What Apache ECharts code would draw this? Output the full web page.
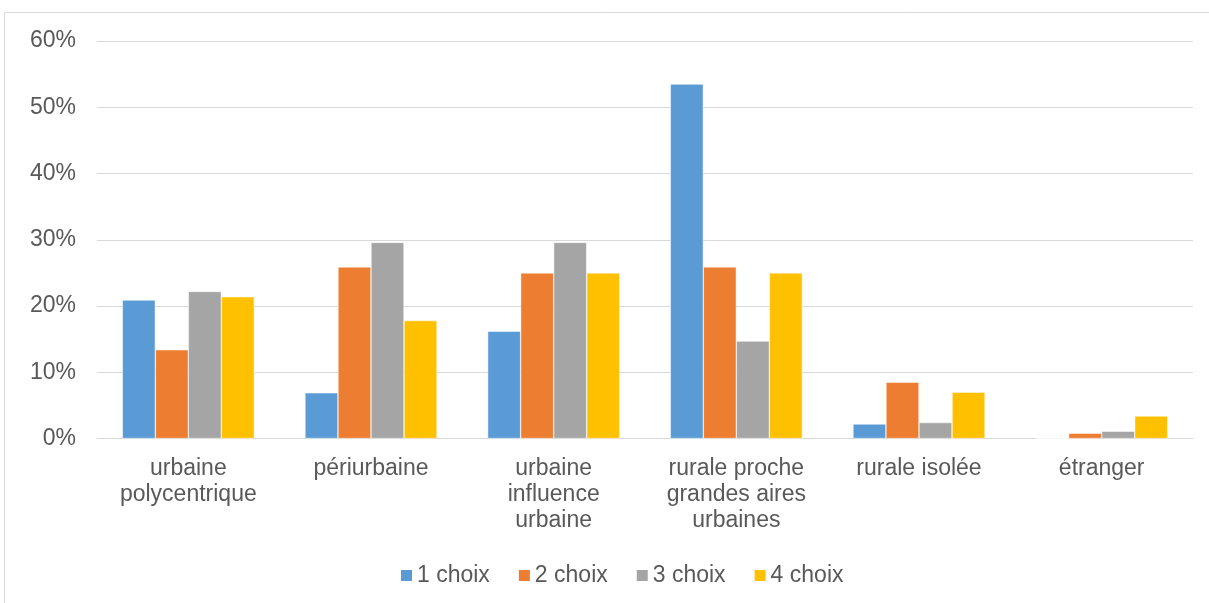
<!DOCTYPE html>
<html><head><meta charset="utf-8">
<script src="https://cdn.jsdelivr.net/npm/echarts@6/dist/echarts.min.js"></script>
<style>html,body{margin:0;padding:0;background:#fff}#c{width:1209px;height:603px}</style>
</head><body><div id="c"></div>
<script>
const categories = ["urbaine\npolycentrique", "périurbaine", "urbaine\ninfluence\nurbaine", "rurale proche\ngrandes aires\nurbaines", "rurale isolée", "étranger"];
const seriesNames = ["1 choix", "2 choix", "3 choix", "4 choix"];
const choix1 = [20.9, 6.9, 16.2, 53.5, 2.2, 0];
const choix2 = [13.4, 25.9, 25.0, 25.9, 8.5, 0.8];
const choix3 = [22.2, 29.6, 29.6, 14.7, 2.4, 1.1];
const choix4 = [21.4, 17.8, 25.0, 25.0, 7.0, 3.4];
const colors = ["#5B9BD5", "#ED7D31", "#A5A5A5", "#FFC000"];
const values = [choix1, choix2, choix3, choix4];

const chart = echarts.init(document.getElementById('c'));
const txt = '#595959';
const font = 'Liberation Sans, Arial, sans-serif';
chart.setOption({
  animation: false,
  graphic: [{type: 'rect', shape: {x: 4.5, y: 12.5, width: 1220, height: 620}, style: {fill: 'none', stroke: '#d9d9d9', lineWidth: 1}, silent: true, z: -1}],
  grid: {left: 97, right: 16, top: 41, bottom: 164.5, containLabel: false},
  legend: {
    top: 559, left: 394, itemWidth: 13, itemHeight: 13, itemGap: 27,
    icon: 'rect',
    textStyle: {color: txt, fontSize: 23, fontFamily: font, padding: [0, 0, 0, -1]},
    data: seriesNames
  },
  xAxis: {
    type: 'category', data: categories,
    axisLine: {lineStyle: {color: '#d9d9d9', width: 1}},
    axisTick: {show: false},
    axisLabel: {color: txt, fontSize: 23, fontFamily: font, lineHeight: 26, margin: 17, interval: 0}
  },
  yAxis: {
    type: 'value', min: 0, max: 60, interval: 10,
    axisLine: {show: false}, axisTick: {show: false},
    splitLine: {lineStyle: {color: '#d9d9d9', width: 1}},
    axisLabel: {color: txt, fontSize: 23, fontFamily: font, formatter: '{value}%', margin: 21}
  },
  series: seriesNames.map((n, i) => ({
    name: n, type: 'bar', data: values[i], barGap: '0%', barCategoryGap: '27.7%',
    itemStyle: {color: colors[i], borderColor: '#fff', borderWidth: 0.5}
  }))
});
</script></body></html>
